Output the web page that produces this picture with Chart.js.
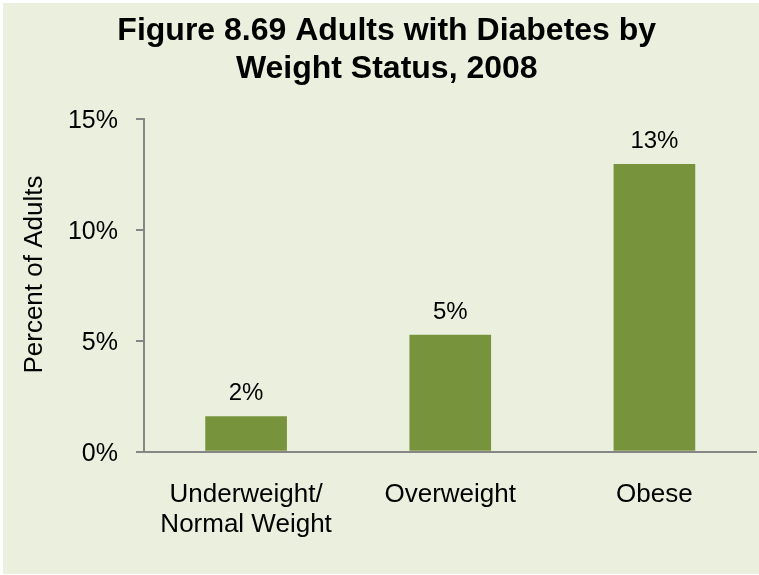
<!DOCTYPE html>
<html>
<head>
<meta charset="utf-8">
<script src="https://cdn.jsdelivr.net/npm/chart.js@4/dist/chart.umd.min.js"></script>
<style>
  html, body { margin: 0; padding: 0; background: #ffffff; }
  #wrap {
    position: absolute; left: 3px; top: 3px;
    width: 756px; height: 571px;
    background: #EBF0DE;
  }
</style>
</head>
<body>
<div id="wrap"><canvas id="chart" width="756" height="571"></canvas></div>
<script>
// ---------------------------------------------------------------------------
// Data
// ---------------------------------------------------------------------------
const TITLE_LINES = ['Figure 8.69 Adults with Diabetes by', 'Weight Status, 2008'];
const CATEGORIES = [['Underweight/', 'Normal Weight'], 'Overweight', 'Obese'];
const DIABETES_PCT = [1.6, 5.27, 12.97];
const Y_MIN = 0;
const Y_MAX = 15;
const Y_STEP = 5;

const BAR_COLOR = '#77933C';
const AXIS_COLOR = '#868686';
const FONT = '"Liberation Sans", Arial, sans-serif';

// draws the rounded percentage above each bar
const barLabels = {
    id: 'barLabels',
    afterDatasetsDraw(chart) {
        const ctx = chart.ctx;
        const meta = chart.getDatasetMeta(0);
        ctx.save();
        ctx.font = `24px ${FONT}`;
        ctx.fillStyle = '#000000';
        ctx.textAlign = 'center';
        ctx.textBaseline = 'alphabetic';
        meta.data.forEach((bar, i) => {
            ctx.fillText(`${Math.round(DIABETES_PCT[i])}%`, bar.x, bar.y - 16);
        });
        ctx.restore();
    },
};

new Chart(document.getElementById('chart'), {
    type: 'bar',
    data: {
        labels: CATEGORIES,
        datasets: [{
            data: DIABETES_PCT,
            backgroundColor: BAR_COLOR,
            borderWidth: 0,
            categoryPercentage: 1,
            barPercentage: 0.4,
        }],
    },
    options: {
        responsive: false,
        animation: false,
        layout: { padding: { left: 14, right: 2.5, top: 0, bottom: 0 } },
        plugins: {
            legend: { display: false },
            tooltip: { enabled: false },
            title: {
                display: true,
                text: TITLE_LINES,
                color: '#000000',
                font: { family: FONT, size: 32, weight: 'bold', lineHeight: 1.2 },
                padding: { top: 8.5, bottom: 30.8 },
            },
        },
        scales: {
            x: {
                grid: { display: false, drawTicks: false },
                border: { display: true, color: AXIS_COLOR, width: 2 },
                ticks: {
                    color: '#000000',
                    font: { family: FONT, size: 26, lineHeight: 1.18 },
                    padding: 27.4,
                    maxRotation: 0,
                    autoSkip: false,
                },
                afterFit: (scale) => { scale.height = 122.3; },
            },
            y: {
                min: Y_MIN,
                max: Y_MAX,
                grid: {
                    drawOnChartArea: false,
                    drawTicks: true,
                    tickLength: 8,
                    color: AXIS_COLOR,
                    lineWidth: 2,
                },
                border: { display: true, color: AXIS_COLOR, width: 2 },
                ticks: {
                    stepSize: Y_STEP,
                    color: '#000000',
                    font: { family: FONT, size: 25 },
                    padding: 18,
                    labelOffset: 2,
                    callback: (v) => `${v}%`,
                },
                title: {
                    display: true,
                    text: '   Percent of Adults',
                    color: '#000000',
                    font: { family: FONT, size: 26, lineHeight: 1.2 },
                    padding: { top: 2.4, bottom: 0 },
                },
                afterFit: (scale) => { scale.width = 127; },
            },
        },
    },
    plugins: [barLabels],
});
</script>
</body>
</html>
